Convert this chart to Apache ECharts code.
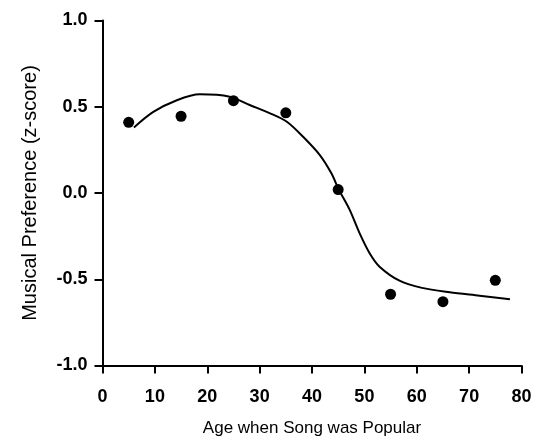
<!DOCTYPE html>
<html>
<head>
<meta charset="utf-8">
<script src="https://cdn.jsdelivr.net/npm/echarts@6/dist/echarts.min.js"></script>
<style>html,body{margin:0;padding:0;background:#fff}#c{width:539px;height:437px}</style>
</head>
<body>
<div id="c"></div>
<script>
const pointX = [5, 15, 25, 35, 45, 55, 65, 75];
const pointY = [0.41, 0.445, 0.535, 0.465, 0.02, -0.587, -0.63, -0.506];
const curveX = [6, 9.7, 14.2, 18.6, 24.3, 28.1, 32, 35.2, 38.3, 41.5, 43.7, 45.1, 47.2, 49.1, 51, 52.9, 56.8, 61, 66.3, 72, 77.8];
const curveY = [0.38, 0.47, 0.538, 0.572, 0.558, 0.51, 0.462, 0.413, 0.326, 0.22, 0.114, 0.021, -0.098, -0.234, -0.349, -0.427, -0.51, -0.55, -0.575, -0.595, -0.616];
const xTicks = [0, 10, 20, 30, 40, 50, 60, 70, 80];
const yTicks = [-1.0, -0.5, 0.0, 0.5, 1.0];
const xTitle = 'Age when Song was Popular';
const yTitle = 'Musical Preference (z-score)';

const font = 'Liberation Sans, Arial, sans-serif';

const chart = echarts.init(document.getElementById('c'), null, {renderer: 'canvas'});
chart.setOption({
  animation: false,
  grid: {left: 102.5, right: 17.5, top: 20.5, bottom: 71.5, outerBoundsMode: 'none', containLabel: false},
  xAxis: {
    type: 'value', min: xTicks[0], max: xTicks[xTicks.length - 1], interval: 10,
    name: xTitle, nameLocation: 'middle', nameGap: 54,
    nameTextStyle: {fontFamily: font, fontSize: 17, color: '#000'},
    axisLine: {show: true, onZero: false, lineStyle: {color: '#000', width: 2}},
    axisTick: {show: true, inside: false, length: 8, lineStyle: {color: '#000', width: 2}},
    axisLabel: {fontFamily: font, fontSize: 18, fontWeight: 'bold', color: '#000', margin: 23},
    splitLine: {show: false}
  },
  yAxis: {
    type: 'value', min: yTicks[0], max: yTicks[yTicks.length - 1], interval: 0.5,
    name: yTitle, nameLocation: 'middle', nameGap: 62,
    nameTextStyle: {fontFamily: font, fontSize: 20, color: '#000'},
    axisLine: {show: true, onZero: false, lineStyle: {color: '#000', width: 2}},
    axisTick: {show: true, inside: false, length: 8, lineStyle: {color: '#000', width: 2}},
    axisLabel: {fontFamily: font, fontSize: 18, fontWeight: 'bold', color: '#000', margin: 15,
      formatter: v => v.toFixed(1)},
    splitLine: {show: false}
  },
  series: [
    {
      type: 'line', smooth: 0.3, showSymbol: false,
      data: curveX.map((x, i) => [x, curveY[i]]),
      lineStyle: {color: '#000', width: 2}
    },
    {
      type: 'scatter', symbol: 'circle', symbolSize: 11,
      data: pointX.map((x, i) => [x, pointY[i]]),
      itemStyle: {color: '#000', opacity: 1}
    }
  ]
});
</script>
</body>
</html>
